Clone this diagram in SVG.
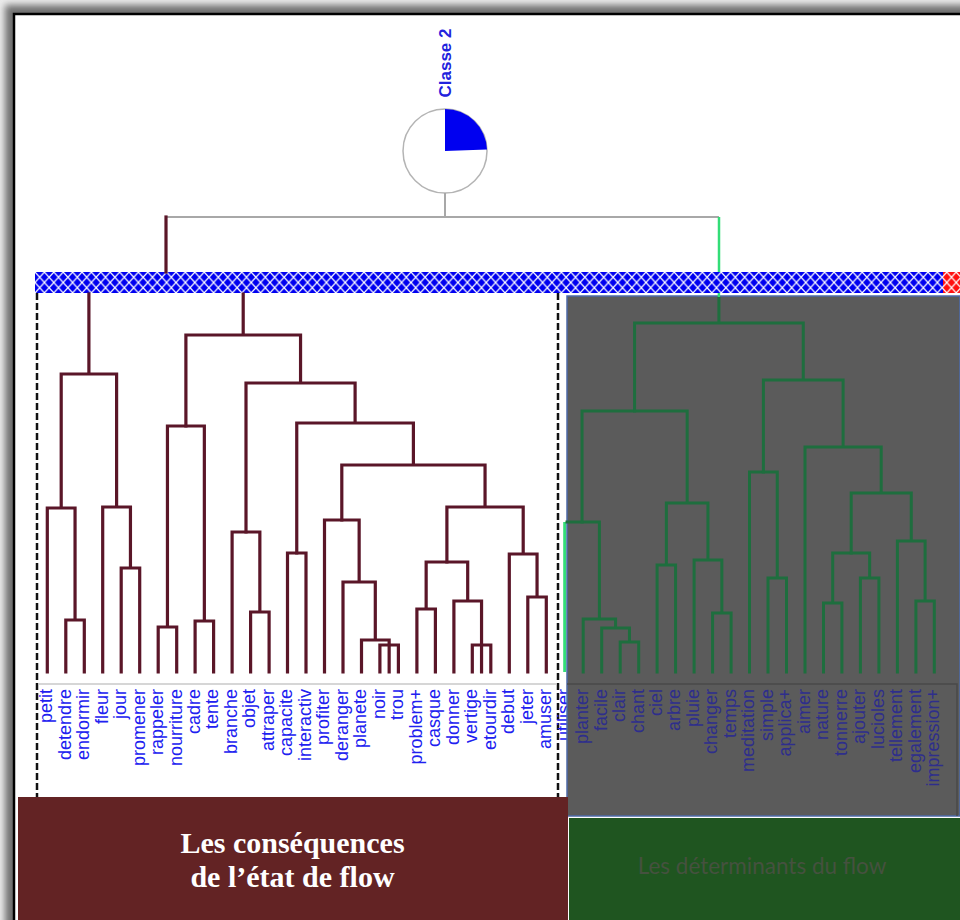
<svg xmlns="http://www.w3.org/2000/svg" width="960" height="920" viewBox="0 0 960 920">
<defs>
<filter id="shadow" x="-5%" y="-5%" width="110%" height="110%"><feGaussianBlur stdDeviation="3.5"/></filter>
<pattern id="hatch" patternUnits="userSpaceOnUse" x="35" y="272" width="9.4" height="10.5">
<path d="M0,0 L9.4,10.5 M9.4,0 L0,10.5" stroke="#ffffff" stroke-width="1.2" fill="none"/>
</pattern>
<clipPath id="grayclip"><rect x="567" y="296" width="393" height="520"/></clipPath>
<style>
.lm{fill:none;stroke:#5a1628;stroke-width:3.2;stroke-linejoin:miter;stroke-linecap:square}
.lg{fill:none;stroke:#1e6e3e;stroke-width:3;stroke-linejoin:miter;stroke-linecap:square}
.lab{font-family:"Liberation Sans",Arial,sans-serif;font-size:18px;fill:#2020f0;text-anchor:end}
.labr{font-family:"Liberation Sans",Arial,sans-serif;font-size:18px;fill:#2e2e8c;text-anchor:end}
.dash{stroke:#111;stroke-width:2.5;stroke-dasharray:7 3;fill:none}
</style>
</defs>

<g id="frame">
<rect x="0" y="0" width="960" height="920" fill="#ececec"/>
<rect x="5" y="5" width="990" height="950" fill="#707070" filter="url(#shadow)"/>
<rect x="14" y="14" width="960" height="920" fill="#ffffff" stroke="#000" stroke-width="2.5"/>
</g>

<g id="classe2">
<text x="0" y="0" transform="translate(451,63) rotate(-90)" font-family="Liberation Sans,Arial,sans-serif" font-size="17" font-weight="bold" fill="#2222dd" text-anchor="middle">Classe 2</text>
<circle cx="445" cy="151" r="42" fill="#ffffff" stroke="#b4b4b4" stroke-width="1.5"/>
<path d="M445,151 L445,109 A42,42 0 0 1 487,149.5 Z" fill="#0000f0"/>
</g>

<g id="bar">
<rect x="35" y="272" width="925" height="21" fill="#0000f0"/>
<rect x="943" y="272" width="17" height="21" fill="#ff1010"/>
<rect x="35" y="272" width="925" height="21" fill="url(#hatch)"/>
</g>

<g id="left-frame">
<line class="dash" x1="37" y1="293" x2="37" y2="797"/>
<line class="dash" x1="558" y1="293" x2="558" y2="797"/>
<line x1="38" y1="684" x2="557" y2="684" stroke="#c8c8c8" stroke-width="1.5"/>
</g>

<g id="connectors">
<path d="M166,217 H719 M445,193 V217" fill="none" stroke="#a8a8a8" stroke-width="2"/>
<path class="lm" d="M166,272 V217"/>
<path d="M719,217 V272" fill="none" stroke="#33dd77" stroke-width="2.5"/>
<path class="lm" d="M65.8,672 V620 H84.3 V672 M47.3,672 V508 H75.05 V620 M121.2,672 V568 H139.7 V672 M102.7,672 V507 H130.45 V568 M61.2,508 V374 H116.6 V507 M88.9,374 V294"/>
<path class="lm" d="M158.2,672 V627 H176.7 V672 M195.1,672 V621 H213.6 V672 M167.45,627 V426 H204.35 V621"/>
<path class="lm" d="M250.6,672 V612 H269.1 V672 M232.1,672 V532 H259.85 V612 M287.5,672 V553 H306 V672"/>
<path class="lm" d="M379.9,672 V645 H398.4 V672 M389.15,645 V672 M361.5,672 V640 H389.15 V645 M343,672 V582 H375.3 V640 M324.5,672 V520 H359.15 V582"/>
<path class="lm" d="M416.9,672 V609 H435.4 V672 M472.3,672 V645 H490.8 V672 M481.55,645 V672 M453.9,672 V601 H481.55 V645 M426.15,609 V562 H467.7 V601"/>
<path class="lm" d="M527.8,672 V597 H546.3 V672 M509.3,672 V554 H537.05 V597 M446.9,562 V507 H523.2 V554 M341.8,520 V465 H485.05 V507 M296.75,553 V423 H413.4 V465 M246,532 V383 H355.1 V423 M185.9,426 V335 H300.55 V383 M243.2,335 V294"/>
<path d="M564.7,672 V522" fill="none" stroke="#33dd77" stroke-width="3"/>
</g>

<g id="labels-left">
<text class="lab" transform="translate(52.1,689) rotate(-90)">petit</text>
<text class="lab" transform="translate(70.6,689) rotate(-90)">detendre</text>
<text class="lab" transform="translate(89.1,689) rotate(-90)">endormir</text>
<text class="lab" transform="translate(107.5,689) rotate(-90)">fleur</text>
<text class="lab" transform="translate(126,689) rotate(-90)">jour</text>
<text class="lab" transform="translate(144.5,689) rotate(-90)">promener</text>
<text class="lab" transform="translate(163,689) rotate(-90)">rappeler</text>
<text class="lab" transform="translate(181.5,689) rotate(-90)">nourriture</text>
<text class="lab" transform="translate(199.9,689) rotate(-90)">cadre</text>
<text class="lab" transform="translate(218.4,689) rotate(-90)">tente</text>
<text class="lab" transform="translate(236.9,689) rotate(-90)">branche</text>
<text class="lab" transform="translate(255.4,689) rotate(-90)">objet</text>
<text class="lab" transform="translate(273.9,689) rotate(-90)">attraper</text>
<text class="lab" transform="translate(292.3,689) rotate(-90)">capacite</text>
<text class="lab" transform="translate(310.8,689) rotate(-90)">interactiv</text>
<text class="lab" transform="translate(329.3,689) rotate(-90)">profiter</text>
<text class="lab" transform="translate(347.8,689) rotate(-90)">deranger</text>
<text class="lab" transform="translate(366.3,689) rotate(-90)">planete</text>
<text class="lab" transform="translate(384.7,689) rotate(-90)">noir</text>
<text class="lab" transform="translate(403.2,689) rotate(-90)">trou</text>
<text class="lab" transform="translate(421.7,689) rotate(-90)">problem+</text>
<text class="lab" transform="translate(440.2,689) rotate(-90)">casque</text>
<text class="lab" transform="translate(458.7,689) rotate(-90)">donner</text>
<text class="lab" transform="translate(477.1,689) rotate(-90)">vertige</text>
<text class="lab" transform="translate(495.6,689) rotate(-90)">etourdir</text>
<text class="lab" transform="translate(514.1,689) rotate(-90)">debut</text>
<text class="lab" transform="translate(532.6,689) rotate(-90)">jeter</text>
<text class="lab" transform="translate(551.1,689) rotate(-90)">amuser</text>
<text class="lab" transform="translate(569.5,689) rotate(-90)">utiliser</text>
</g>

<g id="right-panel">
<rect x="567" y="296" width="393" height="520" fill="#5b5b5b" stroke="#4d6aa8" stroke-width="1.5"/>
<path d="M567,684 H957 V816" fill="none" stroke="#4a4a4a" stroke-width="1.5"/>
</g>

<g id="connectors-right">
<path class="lg" d="M620.2,672 V642 H638.7 V672 M601.7,672 V628 H629.45 V642 M583.2,672 V619 H615.6 V628 M567,522 H599.4 V619"/>
<path class="lg" d="M657.1,672 V565 H675.6 V672 M712.6,672 V613 H731.1 V672 M694.1,672 V560 H721.85 V613 M666.35,565 V503 H707.95 V560 M582.05,522 V411 H687.15 V503"/>
<path class="lg" d="M768,672 V578 H786.5 V672 M749.5,672 V472 H777.25 V578 M823.5,672 V603 H841.9 V672 M860.4,672 V578 H878.9 V672 M832.7,603 V553 H869.65 V578"/>
<path class="lg" d="M915.9,672 V601 H934.3 V672 M897.4,672 V541 H925.1 V601 M851.2,553 V493 H911.25 V541 M805,672 V447 H881.2 V493 M763.4,472 V380 H843.1 V447 M634.6,411 V323 H803.25 V380 M718.9,323 V298"/>
<path d="M718.9,293 V297" fill="none" stroke="#33dd77" stroke-width="2.5"/>
</g>

<g id="labels-right">
<text class="labr" clip-path="url(#grayclip)" transform="translate(569.5,689) rotate(-90)">utiliser</text>
<text class="labr" transform="translate(588,689) rotate(-90)">planter</text>
<text class="labr" transform="translate(606.5,689) rotate(-90)">facile</text>
<text class="labr" transform="translate(625,689) rotate(-90)">clair</text>
<text class="labr" transform="translate(643.5,689) rotate(-90)">chant</text>
<text class="labr" transform="translate(661.9,689) rotate(-90)">ciel</text>
<text class="labr" transform="translate(680.4,689) rotate(-90)">arbre</text>
<text class="labr" transform="translate(698.9,689) rotate(-90)">pluie</text>
<text class="labr" transform="translate(717.4,689) rotate(-90)">changer</text>
<text class="labr" transform="translate(735.9,689) rotate(-90)">temps</text>
<text class="labr" transform="translate(754.3,689) rotate(-90)">meditation</text>
<text class="labr" transform="translate(772.8,689) rotate(-90)">simple</text>
<text class="labr" transform="translate(791.3,689) rotate(-90)">applica+</text>
<text class="labr" transform="translate(809.8,689) rotate(-90)">aimer</text>
<text class="labr" transform="translate(828.3,689) rotate(-90)">nature</text>
<text class="labr" transform="translate(846.7,689) rotate(-90)">tonnerre</text>
<text class="labr" transform="translate(865.2,689) rotate(-90)">ajouter</text>
<text class="labr" transform="translate(883.7,689) rotate(-90)">lucioles</text>
<text class="labr" transform="translate(902.2,689) rotate(-90)">tellement</text>
<text class="labr" transform="translate(920.7,689) rotate(-90)">egalement</text>
<text class="labr" transform="translate(939.1,689) rotate(-90)">impression+</text>
</g>

<g id="box-consequences">
<rect x="18" y="797" width="550" height="123" fill="#632324"/>
<text x="292.5" y="853" font-family="Liberation Serif,Times New Roman,serif" font-size="30" font-weight="bold" fill="#ffffff" text-anchor="middle">Les conséquences</text>
<text x="292.5" y="887" font-family="Liberation Serif,Times New Roman,serif" font-size="30" font-weight="bold" fill="#ffffff" text-anchor="middle">de l’état de flow</text>
</g>

<g id="box-determinants">
<rect x="569" y="818" width="391" height="102" fill="#1f5520"/>
<text x="762" y="874" font-family="Lato,Open Sans,sans-serif" font-size="22.5" fill="#45513f" text-anchor="middle">Les déterminants du flow</text>
</g>
</svg>
